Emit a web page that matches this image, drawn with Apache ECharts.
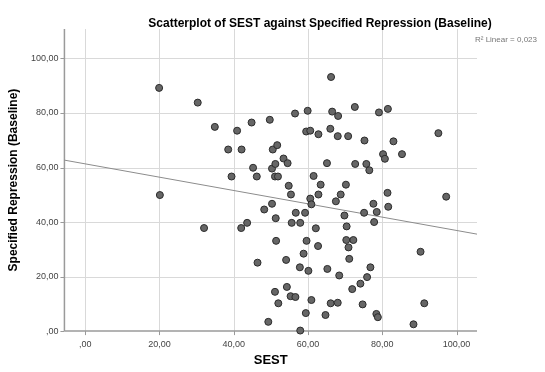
<!DOCTYPE html>
<html>
<head>
<meta charset="utf-8">
<script src="https://cdn.jsdelivr.net/npm/echarts@6/dist/echarts.min.js"></script>
<style>
  html, body { margin: 0; padding: 0; background: #fff; }
  #chart { width: 545px; height: 372px; }
</style>
</head>
<body>
<div id="chart"></div>
<script>
// SEST scores (x) and specified repression at baseline (y)
const sest = [
  19.9, 30.3, 34.9, 40.9, 44.8, 49.7, 38.5, 42.1, 50.5, 45.2,
  50.3, 39.4, 46.2, 66.2, 56.5, 59.9, 66.5, 68.1, 72.6, 79.1,
  81.5, 95.1, 59.5, 60.6, 62.8, 66.0, 68.0, 70.8, 75.2, 83.0,
  51.7, 53.4, 54.5, 51.2, 65.1, 72.7, 75.7, 76.5, 80.2, 80.7,
  85.3, 51.1, 51.9, 61.5, 54.8, 63.4, 70.2, 55.4, 62.8, 68.8,
  60.6, 60.9, 67.5, 50.3, 48.2, 81.4, 81.6, 97.2, 77.6, 78.5,
  75.1, 56.7, 59.2, 51.3, 55.6, 57.9, 69.8, 77.8, 70.4, 62.1,
  51.4, 59.6, 70.3, 72.2, 70.9, 62.7, 90.3, 58.8, 71.1, 54.1,
  57.8, 60.1, 65.2, 68.4, 76.8, 75.9, 74.1, 71.9, 54.3, 51.1,
  55.3, 56.6, 52.0, 60.9, 66.1, 68.0, 74.7, 91.3, 64.7, 59.4,
  78.4, 78.8, 88.4, 49.3, 57.9, 20.1, 32.0, 42.0, 43.6, 46.4
];
const repression = [
  89.2, 83.8, 74.9, 73.5, 76.5, 77.5, 66.6, 66.6, 66.6, 59.9,
  59.6, 56.7, 56.7, 93.2, 79.8, 80.8, 80.5, 78.9, 82.2, 80.2,
  81.5, 72.6, 73.2, 73.5, 72.2, 74.2, 71.5, 71.5, 69.9, 69.6,
  68.2, 63.3, 61.6, 61.3, 61.6, 61.3, 61.3, 59.0, 64.9, 63.2,
  64.9, 56.7, 56.7, 56.9, 53.3, 53.7, 53.7, 50.1, 50.1, 50.1,
  48.6, 46.5, 47.6, 46.7, 44.6, 50.7, 45.6, 49.3, 46.7, 43.7,
  43.4, 43.4, 43.4, 41.4, 39.7, 39.7, 42.4, 40.0, 38.4, 37.7,
  33.1, 33.1, 33.4, 33.4, 30.7, 31.2, 29.1, 28.4, 26.5, 26.1,
  23.4, 22.1, 22.8, 20.4, 23.4, 19.8, 17.4, 15.4, 16.2, 14.4,
  12.8, 12.5, 10.2, 11.4, 10.2, 10.4, 9.8, 10.2, 5.9, 6.6,
  6.3, 5.1, 2.5, 3.4, 0.2, 49.9, 37.8, 37.8, 39.7, 25.1
];
const xTicks = [0, 20, 40, 60, 80, 100];
const yTicks = [0, 20, 40, 60, 80, 100];
const rSquaredText = 'R² Linear = 0,023';

const X_MIN = -5.6, X_MAX = 105.5, Y_MIN = 0, Y_MAX = 110.8;

// least squares fit
function fitLine(xs, ys) {
  const n = xs.length;
  let sx = 0, sy = 0, sxx = 0, sxy = 0;
  for (let i = 0; i < n; i++) {
    sx += xs[i]; sy += ys[i];
    sxx += xs[i] * xs[i]; sxy += xs[i] * ys[i];
  }
  const b = (n * sxy - sx * sy) / (n * sxx - sx * sx);
  const a = (sy - b * sx) / n;
  return { a, b };
}
const fit = fitLine(sest, repression);
const fitData = [X_MIN, X_MAX].map(x => [x, fit.a + fit.b * x]);

// grid frame items: kind 0 = x tick, 1 = y tick, 2 = axis lines
const frameItems = [
  ...xTicks.map(v => [0, v]),
  ...yTicks.map(v => [1, v]),
  [2, 0]
];

// SPSS style: ",00" for zero, decimal comma; blank for the odd edge values
const fmt = v => {
  const n = Number(v && typeof v === 'object' ? v.value : v);
  if (!isFinite(n) || Math.abs(n % 20) > 1e-6) return '';
  return n === 0 ? ',00' : n.toFixed(2).replace('.', ',');
};
const font = 'Liberation Sans, Arial, sans-serif';
const crisp = p => Math.round(p) + 0.5;
const seg = (x1, y1, x2, y2, stroke, lineWidth) => ({
  type: 'line', silent: true,
  shape: { x1, y1, x2, y2 },
  style: { stroke, lineWidth }
});

function renderFrame(params, api) {
  const kind = api.value(0), v = api.value(1);
  const cs = params.coordSys;
  const top = cs.y, bottom = cs.y + cs.height, left = cs.x, right = cs.x + cs.width;
  const children = [];
  if (kind === 0) {
    const px = crisp(api.coord([v, Y_MIN])[0]);
    children.push(seg(px, top, px, bottom, '#d9d9d9', 1));
    children.push(seg(px, bottom, px, bottom + 4, '#9a9a9a', 1));
  } else if (kind === 1) {
    const py = crisp(api.coord([X_MIN, v])[1]);
    if (v > Y_MIN) children.push(seg(left, py, right, py, '#d9d9d9', 1));
    children.push(seg(left - 4, py, left, py, '#9a9a9a', 1));
  } else {
    children.push(seg(left, top, left, bottom, '#9a9a9a', 1.5));
    children.push(seg(left, bottom, right, bottom, '#9a9a9a', 1.5));
  }
  return { type: 'group', children };
}

const chart = echarts.init(document.getElementById('chart'));
chart.setOption({
  animation: false,
  title: [{
    text: 'Scatterplot of SEST against Specified Repression (Baseline)',
    left: 315, top: 13, textAlign: 'center',
    textStyle: { fontSize: 12, fontWeight: 'bold', color: '#000', fontFamily: font }
  }, {
    text: rSquaredText,
    right: 3, top: 31,
    textStyle: { fontSize: 8, fontWeight: 'normal', color: '#777', fontFamily: font }
  }],
  grid: { left: 62, right: 68, top: 29, bottom: 36.5 },
  xAxis: {
    type: 'value', min: X_MIN, max: X_MAX,
    name: 'SEST', nameLocation: 'middle', nameGap: 20,
    nameTextStyle: { fontSize: 13, fontWeight: 'bold', color: '#000', fontFamily: font },
    axisLine: { show: false },
    axisTick: { show: false },
    axisLabel: { formatter: fmt, fontSize: 9, color: '#444', margin: 9, fontFamily: font },
    splitLine: { show: false }
  },
  yAxis: {
    type: 'value', min: Y_MIN, max: Y_MAX,
    name: 'Specified Repression (Baseline)', nameLocation: 'middle', nameGap: 40,
    nameTextStyle: { fontSize: 12, fontWeight: 'bold', color: '#000', fontFamily: font },
    axisLine: { show: false },
    axisTick: { show: false },
    axisLabel: { formatter: fmt, fontSize: 9, color: '#444', margin: 6, fontFamily: font },
    splitLine: { show: false }
  },
  series: [{
    type: 'custom',
    data: frameItems,
    renderItem: renderFrame,
    silent: true,
    clip: false,
    z: 1
  }, {
    type: 'line',
    data: fitData,
    symbol: 'none',
    silent: true,
    lineStyle: { color: '#8c8c8c', width: 1 },
    z: 2
  }, {
    type: 'scatter',
    data: sest.map((x, i) => [x, repression[i]]),
    symbolSize: 7,
    itemStyle: { color: '#666', borderColor: '#2b2b2b', borderWidth: 1, opacity: 1 },
    z: 3
  }]
});
</script>
</body>
</html>
